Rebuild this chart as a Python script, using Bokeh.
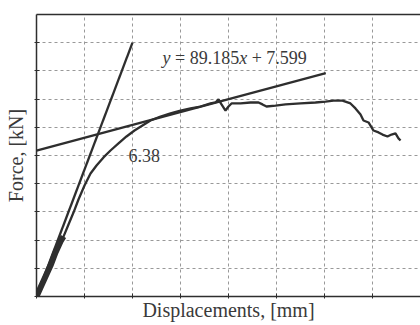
from bokeh.plotting import figure
from bokeh.models import Range1d, FixedTicker, LinearAxis, Label, CustomJSTickFormatter
from bokeh.embed import file_html
from bokeh.resources import INLINE

# Measured force-displacement curve (displacement in mm, force in kN)
disp = [0.0, 0.00063, 0.00141, 0.00219, 0.00297, 0.00375, 0.00422, 0.00500,
        0.00578, 0.00656, 0.00750, 0.00844, 0.00938, 0.01047, 0.01156, 0.01281,
        0.01406, 0.01531, 0.01656, 0.01781, 0.01938, 0.02094, 0.02250, 0.02406,
        0.02563, 0.02719, 0.02797, 0.02844, 0.02891, 0.02953, 0.03000, 0.03047,
        0.03188, 0.03344, 0.03469, 0.03531, 0.03594, 0.03734, 0.03891, 0.04125,
        0.04359, 0.04516, 0.04641, 0.04781, 0.04906, 0.04984, 0.05063, 0.05109,
        0.05188, 0.05266, 0.05344, 0.05406, 0.05484, 0.05547, 0.05609, 0.05656,
        0.05688]
force = [0.0, 0.47, 1.04, 1.61, 2.29, 2.86, 3.12, 3.75,
         4.37, 5.05, 5.78, 6.40, 6.82, 7.24, 7.60, 7.97,
         8.33, 8.64, 8.90, 9.16, 9.37, 9.53, 9.68, 9.79,
         9.89, 10.05, 10.10, 10.26, 10.00, 9.68, 9.89, 10.05,
         10.05, 10.10, 10.10, 10.00, 9.89, 9.94, 10.00, 10.05,
         10.10, 10.15, 10.20, 10.20, 10.05, 9.79, 9.47, 9.16,
         9.06, 8.64, 8.54, 8.43, 8.33, 8.43, 8.49, 8.23,
         8.12]

# Initial stiffness line
steep_x = [0.0, 0.0150]
steep_y = [0.0, 13.22]
# Fitted post-yield line y = 89.185x + 7.599
fit_x = [0.0, 0.0452]
fit_y = [7.599, 11.630]

x_end = 0.06
y_end = 14.68
x_ticks = [i * 0.0075 for i in range(9)]
y_ticks = [i * y_end / 10 for i in range(11)]

ink = "#2e2e2e"
txt = "#3a3a3a"
font = "Liberation Serif"

p = figure(width=420, height=325, output_backend="svg", toolbar_location=None,
           x_range=Range1d(0, x_end), y_range=Range1d(0, y_end),
           min_border_left=36, min_border_right=0, min_border_top=14,
           min_border_bottom=29)
p.outline_line_color = None
p.background_fill_color = "white"
p.border_fill_color = "white"

blank = CustomJSTickFormatter(code="return ''")
for ax, ticks in ((p.xaxis[0], x_ticks), (p.yaxis[0], y_ticks)):
    ax.ticker = FixedTicker(ticks=ticks)
    ax.formatter = blank
    ax.axis_line_color = ink
    ax.axis_line_width = 1.5
    ax.major_tick_line_color = ink
    ax.major_tick_in = 3
    ax.major_tick_out = 2
    ax.minor_tick_line_color = None
    ax.major_label_text_font_size = "1px"
    ax.major_label_standoff = 0
    ax.axis_label_text_font = font
    ax.axis_label_text_font_style = "normal"
    ax.axis_label_text_color = txt
    ax.axis_label_text_font_size = "20px"

p.xaxis.axis_label = "Displacements, [mm]"
p.xaxis.axis_label_standoff = 0
p.yaxis.axis_label = "Force, [kN]"
p.yaxis.axis_label_standoff = 8

top = LinearAxis(ticker=FixedTicker(ticks=[]), formatter=blank, axis_line_color=ink,
                 axis_line_width=1.5, major_tick_line_color=None,
                 minor_tick_line_color=None, major_label_text_font_size="1px",
                 major_label_standoff=0)
p.add_layout(top, "above")

for g in (p.xgrid[0], p.ygrid[0]):
    g.grid_line_color = "#999999"
    g.grid_line_dash = "3 3"
    g.grid_line_width = 1

p.line(steep_x, steep_y, line_color=ink, line_width=2.3)
p.line(fit_x, fit_y, line_color=ink, line_width=2.3)
p.line(disp, force, line_color=ink, line_width=2.3)
p.line(disp[:7], force[:7], line_color=ink, line_width=6)

def lab(x, y, t, style="normal"):
    p.add_layout(Label(x=x, y=y, text=t, text_font=font, text_font_size="18px",
                       text_font_style=style, text_color=txt, text_align="left",
                       text_baseline="alphabetic"))

eq_y = 12.44
lab(0.019688, eq_y, "y", style="italic")
lab(0.021641, eq_y, "= 89.185")
lab(0.031672, eq_y, "x", style="italic")
lab(0.033625, eq_y, "+ 7.599")
lab(0.014375, 7.34, "6.38")

open("out.html", "w").write(file_html(p, INLINE))
